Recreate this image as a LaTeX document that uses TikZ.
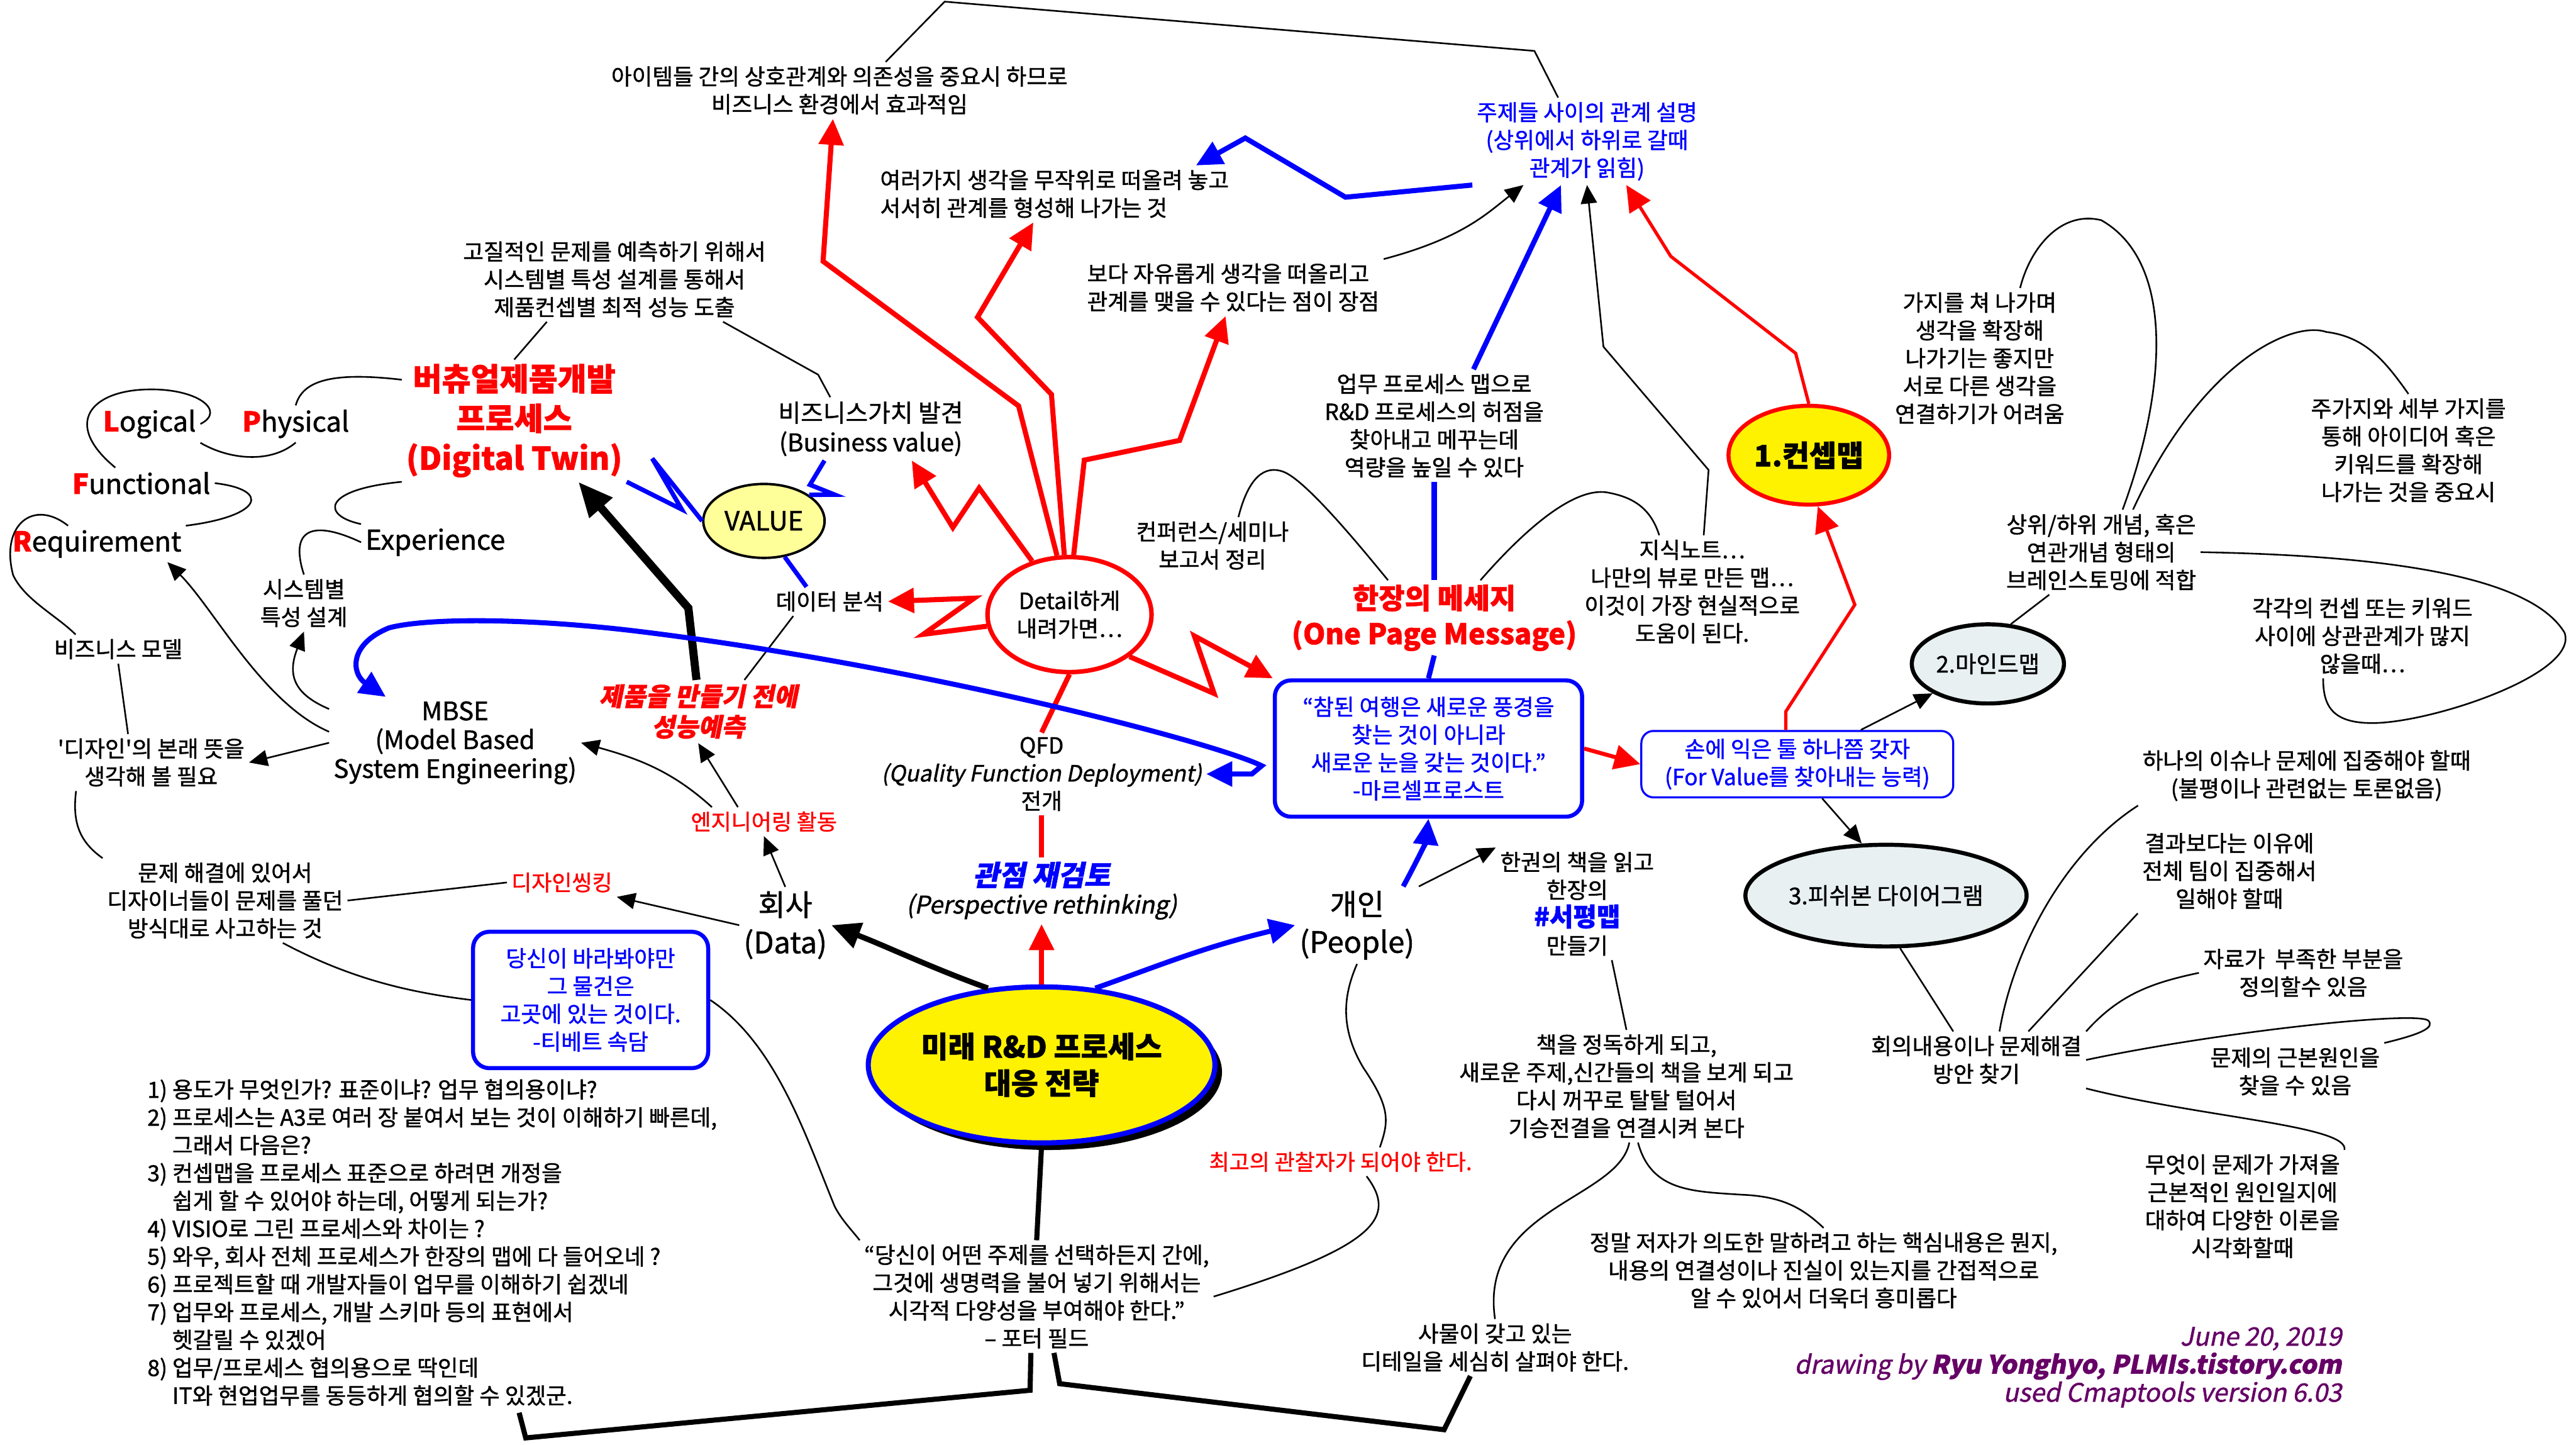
\documentclass[tikz,border=0pt]{standalone}
\usepackage{fontspec}
\setmainfont{Noto Sans CJK KR}[FakeBold=1.2, ItalicFont=*, ItalicFeatures={FakeSlant=0.2}, BoldItalicFont=*/B, BoldItalicFeatures={FakeSlant=0.2}]
\usepackage{tikz}
\usetikzlibrary{arrows.meta, shapes.geometric, shadows}
\definecolor{valuefill}{RGB}{255,255,153}
\definecolor{mapfill}{RGB}{232,240,242}
\definecolor{credit}{RGB}{102,0,102}

\begin{document}
\begin{tikzpicture}[x=0.02844cm, y=-0.02844cm,
	txt/.style={align=center, inner sep=2pt, font=\fontsize{11}{13.7}\selectfont},
	rtxt/.style={txt, text=red},
	btxt/.style={txt, text=blue},
	lpfre/.style={inner sep=2pt, font=\fontsize{13.5}{16}\selectfont},
	qbox/.style={txt, draw=blue, line width=2pt, rounded corners=8pt, text=blue},
	oval/.style={txt, ellipse, draw, line width=2pt},
	lin/.style={line width=0.8pt},
	seta/.style={lin, -{Triangle[length=0.32cm, width=0.28cm]}},
	linred/.style={red, line width=2.5pt},
	setared/.style={linred, -{Triangle[length=0.45cm, width=0.42cm]}},
	linblue/.style={blue, line width=2.5pt},
	setablue/.style={linblue, -{Triangle[length=0.45cm, width=0.42cm]}},
	linfat/.style={line width=2.5pt},
	setablk/.style={line width=2.7pt, -{Triangle[length=0.5cm, width=0.45cm]}},
	setafat/.style={line width=4pt, -{Triangle[length=0.6cm, width=0.5cm]}}
	]
	\fill[white] (0,0) rectangle (1568,879);
	\useasboundingbox (0,0) rectangle (1568,879);

	\node[txt] (items) at (511,55) {아이템들 간의 상호관계와 의존성을 중요시 하므로\\비즈니스 환경에서 효과적임};
	\node[txt, align=left, anchor=west] (random) at (533,118) {여러가지 생각을 무작위로 떠올려 놓고\\서서히 관계를 형성해 나가는 것};
	\node[txt, align=left, anchor=west] (free) at (659,175) {보다 자유롭게 생각을 떠올리고\\관계를 맺을 수 있다는 점이 장점};
	\node[btxt] (topics) at (966,86) {주제들 사이의 관계 설명\\(상위에서 하위로 갈때\\관계가 읽힘)};
	\node[txt] (quality) at (374,170) {고질적인 문제를 예측하기 위해서\\시스템별 특성 설계를 통해서\\제품컨셉별 최적 성능 도출};
	\node[rtxt, font=\fontsize{15.5}{19.5}\selectfont\bfseries] (twin) at (313,256) {버츄얼제품개발\\프로세스\\(Digital Twin)};

	\node[lpfre] (logical) at (91,258) {\textcolor{red}{\bfseries L}ogical};
	\node[lpfre] (physical) at (180,258) {\textcolor{red}{\bfseries P}hysical};
	\node[lpfre] (functional) at (86,294) {\textcolor{red}{\bfseries F}unctional};
	\node[lpfre] (requirement) at (59,331) {\textcolor{red}{\bfseries R}equirement};
	\node[lpfre] (experience) at (265,330) {Experience};

	\node[txt, font=\fontsize{12}{14.5}\selectfont] (bizval) at (530,261) {비즈니스가치 발견\\(Business value)};
	\node[ellipse, draw, line width=1.2pt, fill=valuefill, minimum width=2.1cm, minimum height=1.28cm, inner sep=1pt, font=\fontsize{13}{15}\selectfont] (value) at (465,317) {VALUE};
	\node[txt] (sysdesign) at (185,367) {시스템별\\특성 설계};
	\node[txt] (dataanal) at (505,366) {데이터 분석};
	\node[oval, draw=red, line width=2.2pt, fill=white, minimum width=2.84cm, minimum height=1.99cm, inner sep=0pt] (detail) at (651,374) {Detail하게\\내려가면…};
	\node[txt] (conf) at (738,332) {컨퍼런스/세미나\\보고서 정리};
	\node[txt] (bizproc) at (873,259) {업무 프로세스 맵으로\\R\&D 프로세스의 허점을\\찾아내고 메꾸는데\\역량을 높일 수 있다};
	\node[rtxt, font=\fontsize{14}{17.5}\selectfont\bfseries] (onepage) at (873,376) {한장의 메세지\\(One Page Message)};
	\node[txt] (know) at (1030,360) {지식노트…\\나만의 뷰로 만든 맵…\\이것이 가장 현실적으로\\도움이 된다.};

	\node[oval, draw=red, fill=yellow, minimum width=2.67cm, minimum height=1.71cm, inner sep=1pt, font=\fontsize{14.5}{17}\selectfont\bfseries] (concept) at (1101,277) {1.컨셉맵};
	\node[txt] (branch) at (1205,218) {가지를 쳐 나가며\\생각을 확장해\\나가기는 좋지만\\서로 다른 생각을\\연결하기가 어려움};
	\node[txt] (mainbranch) at (1466,274) {주가지와 세부 가지를\\통해 아이디어 혹은\\키워드를 확장해\\나가는 것을 중요시};
	\node[txt] (updown) at (1279,336) {상위/하위 개념, 혹은\\연관개념 형태의\\브레인스토밍에 적합};
	\node[oval, fill=mapfill, minimum width=2.62cm, minimum height=1.37cm, inner sep=1pt, font=\fontsize{11.3}{13.7}\selectfont] (mind) at (1210,404) {2.마인드맵};
	\node[txt] (each) at (1438,387) {각각의 컨셉 또는 키워드\\사이에 상관관계가 많지\\않을때…};

	\node[txt, font=\fontsize{12.5}{14.2}\selectfont] (mbse) at (277,452) {MBSE\\(Model Based\\System Engineering)};
	\node[qbox, minimum width=5.32cm, minimum height=2.36cm] (quote1) at (869.5,455.5) {“참된 여행은 새로운 풍경을\\찾는 것이 아니라\\새로운 눈을 갖는 것이다.”\\-마르셀프로스트};
	\node[qbox, line width=1pt, rounded corners=6pt, minimum width=5.4cm, minimum height=1.15cm] (hand) at (1094,465) {손에 익은 툴 하나쯤 갖자\\(For Value를 찾아내는 능력)};
	\node[oval, fill=mapfill, minimum width=3.98cm, minimum height=1.76cm, inner sep=1pt, font=\fontsize{11.4}{13.7}\selectfont] (fishbone) at (1148,545) {3.피쉬본 다이어그램};
	\node[rtxt, font=\fontsize{12.5}{15}\selectfont\bfseries\itshape] (predict) at (425,433) {제품을 만들기 전에\\성능예측};
	\node[txt] (design) at (92,464) {\textquotesingle 디자인\textquotesingle 의 본래 뜻을\\생각해 볼 필요};
	\node[txt] (bizmodel) at (72,395) {비즈니스 모델};
	\node[txt] (qfd) at (634,471) {QFD\\{\fontsize{11}{13.7}\selectfont\itshape (Quality Function Deployment)}\\전개};
	\node[rtxt, font=\fontsize{10.8}{13.5}\selectfont] (eng) at (465,500) {엔지니어링 활동};
	\node[rtxt, font=\fontsize{10.8}{13.5}\selectfont] (dthink) at (342,537) {디자인씽킹};
	\node[txt] (problem) at (137,548) {문제 해결에 있어서\\디자이너들이 문제를 풀던\\방식대로 사고하는 것};
	\node[txt, font=\fontsize{14.5}{18.5}\selectfont] (company) at (478,563) {회사\\(Data)};
	\node[txt] (persp) at (634,542) {{\color{blue}\fontsize{14}{17}\selectfont\bfseries\itshape 관점 재검토}\\{\fontsize{12}{14}\selectfont\itshape (Perspective rethinking)}};
	\node[txt, font=\fontsize{14.5}{18.5}\selectfont] (people) at (826,563) {개인\\(People)};
	\node[txt] (book) at (960,550) {한권의 책을 읽고\\한장의\\{\color{blue}\bfseries\fontsize{12.6}{13.7}\selectfont\#서평맵}\\만들기};

	\node[txt] (oneissue) at (1404,472) {하나의 이슈나 문제에 집중해야 할때\\(불평이나 관련없는 토론없음)};
	\node[txt] (result) at (1357,530) {결과보다는 이유에\\전체 팀이 집중해서\\일해야 할때};
	\node[txt] (lack) at (1402,592) {자료가\ \ 부족한 부분을\\정의할수 있음};
	\node[txt] (meeting) at (1203,645) {회의내용이나 문제해결\\방안 찾기};
	\node[txt] (root) at (1397,652) {문제의 근본원인을\\찾을 수 있음};
	\node[txt] (what) at (1365,734) {무엇이 문제가 가져올\\근본적인 원인일지에\\대하여 다양한 이론을\\시각화할때};

	\node[qbox, minimum width=4.07cm, minimum height=2.36cm] (quote2) at (359.5,608.5) {당신이 바라봐야만\\그 물건은\\고곳에 있는 것이다.\\-티베트 속담};
	\node[ellipse, draw=blue, line width=2.5pt, fill=yellow, minimum width=5.29cm, minimum height=2.7cm, inner sep=1pt, align=center, font=\fontsize{14.5}{18}\selectfont\bfseries, drop shadow={shadow xshift=3.5pt, shadow yshift=-3.5pt, fill=black, opacity=1}] (core) at (634,648) {미래 R\&D 프로세스\\대응 전략};
	\node[rtxt, font=\fontsize{10.8}{13.5}\selectfont] (observer) at (816,707) {최고의 관찰자가 되어야 한다.};
	\node[txt] (read) at (990,661) {책을 정독하게 되고,\\새로운 주제,신간들의 책을 보게 되고\\다시 꺼꾸로 탈탈 털어서\\기승전결을 연결시켜 본다};
	\node[txt, align=left, anchor=north west] (list) at (87,654) {1) 용도가 무엇인가? 표준이냐? 업무 협의용이냐?\\2) 프로세스는 A3로 여러 장 붙여서 보는 것이 이해하기 빠른데,\\\phantom{2) }그래서 다음은?\\3) 컨셉맵을 프로세스 표준으로 하려면 개정을\\\phantom{3) }쉽게 할 수 있어야 하는데, 어떻게 되는가?\\4) VISIO로 그린 프로세스와 차이는 ?\\5) 와우, 회사 전체 프로세스가 한장의 맵에 다 들어오네 ?\\6) 프로젝트할 때 개발자들이 업무를 이해하기 쉽겠네\\7) 업무와 프로세스, 개발 스키마 등의 표현에서\\\phantom{7) }헷갈릴 수 있겠어\\8) 업무/프로세스 협의용으로 딱인데\\\phantom{8) }IT와 현업업무를 동등하게 협의할 수 있겠군.};
	\node[txt] (quote3) at (631,789) {“당신이 어떤 주제를 선택하든지 간에,\\그것에 생명력을 불어 넣기 위해서는\\시각적 다양성을 부여해야 한다.”\\– 포터 필드};
	\node[txt] (author) at (1110,773) {정말 저자가 의도한 말하려고 하는 핵심내용은 뭔지,\\내용의 연결성이나 진실이 있는지를 간접적으로\\알 수 있어서 더욱더 흥미롭다};
	\node[txt] (detail2) at (910,820) {사물이 갖고 있는\\디테일을 세심히 살펴야 한다.};
	\node[anchor=east, align=right, inner sep=2pt, text=credit, font=\fontsize{12.5}{13.8}\selectfont\itshape] (credits) at (1428,832) {June 20, 2019\\drawing by {\bfseries Ryu Yonghyo, PLMIs.tistory.com}\\used Cmaptools version 6.03};

	\draw[setared] (detail.102) -- (620,247) -- (501,159) -- (507,0 |- items.south);
	\draw[setared] (detail.95) -- (640,240) -- (595,193) -- (629,0 |- random.south);
	\draw[setared] (detail.86) -- (660,280) -- (718,268) -- (746,0 |- free.south);
	\draw[setared] (detail.125) -- (596,297) -- (580,321) -- (555,0 |- bizval.south);
	\draw[setared] (detail.188) -- (562,386) -- (593,364) -- (dataanal.east);
	\draw[setared] (detail.-35) -- (739,422) -- (727,387) -- (quote1.north west);
	\draw[linred] (detail.south) -- (qfd.north);
	\draw[linred] (persp.north) -- (qfd.south);
	\draw[setared] (core.north) -- (persp.south);
	\draw[setablk] (core.125) .. controls (567,589) and (540,576) .. (company.east);
	\draw[setablue] (core.55) .. controls (702,589) and (730,577) .. (people.west);
	\draw[linfat] (core.south) -- (quote3.north);
	\draw[linfat] ([xshift=-0.1cm]quote3.south) -- (627,846) -- (320,875) -- (316,0 |- list.south);
	\draw[linfat] ([xshift=0.3cm]quote3.south) -- (645,842) -- (879,870) -- (895,0 |- detail2.south);

	\draw[setafat] ([xshift=-0.03cm]predict.north) -- (419,370) -- (352,0 |- twin.south);
	\draw[linblue, line width=2.2pt] (value.west) -- (397,279) -- (415,310) -- (twin.south east);
	\draw[linblue, line width=2.2pt] (value.30) -- (508,301) -- (493,295) -- ([xshift=-0.8cm]bizval.south);
	\draw[linblue, line width=2.2pt] (value.-60) -- ([xshift=-0.4cm]dataanal.north);
	\draw[lin] ([xshift=-0.63cm]dataanal.south) -- ([xshift=0.8cm]predict.north);
	\draw[linblue, {Triangle[length=0.45cm, width=0.42cm]}-{Triangle[length=0.45cm, width=0.42cm]}] (qfd.east) -- (762,471) -- (768,466) .. controls (740,452) and (560,405) .. (387,384) .. controls (320,376) and (260,376) .. (237,382) .. controls (212,392) and (214,410) .. ([xshift=-1.2cm]mbse.north);

	\draw[linblue] (quote1.north) -- (onepage.south);
	\draw[linblue] (onepage.north) -- (bizproc.south);
	\draw[setablue] ([xshift=0.68cm]bizproc.north) -- ([xshift=-0.45cm]topics.south);
	\draw[setablue] (topics.south west) -- (819,120) -- (758,84) -- (728,0 |- random.north);
	\draw[seta] (free.north east) .. controls (890,145) and (905,130) .. ([xshift=-1.1cm]topics.south);
	\draw[seta] ([xshift=0.2cm]know.north) -- (1040,286) -- (976,211) -- (topics.south);
	\draw[setared, line width=1.6pt] (concept.north) -- (1093,215) -- (1017,156) -- ([xshift=0.68cm]topics.south);
	\draw[lin] ([xshift=0.8cm]items.north) -- (575,1) -- (934,31) -- ([xshift=-0.5cm]topics.north);
	\draw[lin] (twin.north) -- ([xshift=-1.17cm]quality.south);
	\draw[lin] ([xshift=1.88cm]quality.south) -- (498,228) -- ([xshift=-0.7cm]bizval.north);
	\draw[lin] ([xshift=0.45cm]conf.north) .. controls (760,290) and (770,283) .. (781,287) .. controls (795,292) and (830,335) .. ([xshift=-0.8cm]onepage.north);
	\draw[lin] ([xshift=0.8cm]onepage.north) .. controls (930,320) and (960,295) .. (980,300) .. controls (995,303) and (1005,310) .. ([xshift=-0.57cm]know.north);

	\draw[lin] (twin.160) .. controls (201,226) and (184,232) .. (physical.north);
	\draw[lin] (physical.south) .. controls (165,282) and (140,280) .. (logical.south east);
	\draw[lin] (logical.east) .. controls (138,250) and (120,236) .. (89,237) .. controls (55,238) and (38,258) .. ([xshift=-0.45cm]functional.north);
	\draw[lin] (functional.east) .. controls (165,298) and (160,314) .. (requirement.north east);
	\draw[lin] ([xshift=-0.5cm]requirement.north) .. controls (20,303) and (0,320) .. (8,350) .. controls (15,365) and (35,375) .. ([xshift=-0.74cm]bizmodel.north);
	\draw[lin] (bizmodel.south) -- ([xshift=-0.4cm]design.north);
	\draw[lin] ([xshift=-1.3cm]design.south) .. controls (44,500) and (48,512) .. (problem.north west);
	\draw[lin] (problem.east) -- (dthink.west);
	\draw[lin] ([xshift=1cm]problem.south) .. controls (214,596) and (250,604) .. (quote2.west);
	\draw[lin] (experience.north west) .. controls (196,314) and (195,298) .. (twin.south west);
	\draw[lin] (experience.west) .. controls (190,316) and (176,322) .. (sysdesign.north);
	\draw[seta] (mbse.165) .. controls (178,422) and (175,410) .. (sysdesign.south);
	\draw[seta] (mbse.175) .. controls (160,428) and (130,370) .. ([xshift=1.22cm]requirement.south);
	\draw[seta] (mbse.west) -- (design.east);
	\draw[seta] ([xshift=-0.9cm]eng.north) .. controls (410,470) and (390,462) .. (mbse.east);
	\draw[seta] ([xshift=-0.45cm]eng.north) -- (predict.south);
	\draw[seta] (company.north) -- (eng.south);
	\draw[seta] (company.west) -- (dthink.south east);

	\draw[setablue] ([xshift=0.8cm]people.north) .. controls (862,525) and (868,512) .. (quote1.south);
	\draw[seta] (people.north east) -- (book.north west);
	\draw[lin] (people.south) .. controls (818,605) and (815,625) .. (830,650) .. controls (847,675) and (845,683) .. ([xshift=0.68cm]observer.north);
	\draw[lin] ([xshift=0.45cm]observer.south) .. controls (850,740) and (840,758) .. (quote3.east);
	\draw[lin] (quote2.east) .. controls (472,635) and (490,690) .. (508,734) .. controls (512,742) and (518,748) .. (quote3.north west);
	\draw[lin] ([xshift=0.6cm]book.south) -- (read.north);
	\draw[lin] ([xshift=0.05cm]read.south) .. controls (985,730) and (900,735) .. (detail2.north);
	\draw[lin] ([xshift=0.2cm]read.south) .. controls (1005,725) and (1030,725) .. (1060,727) .. controls (1085,728) and (1097,735) .. (author.north);

	\draw[setared, line width=2pt] (quote1.east) -- (hand.west);
	\draw[setared, line width=1.6pt] ([xshift=-0.2cm]hand.north) -- (1087,433) -- (1129,368) -- (concept.-80);
	\draw[seta] ([xshift=1.1cm]hand.north) -- (mind.south west);
	\draw[seta] ([xshift=0.43cm]hand.south) -- (fishbone.115);
	\draw[lin] (mind.60) -- ([xshift=-0.9cm]updown.south);
	\draw[lin] ([xshift=0.37cm]updown.north) .. controls (1318,240) and (1325,160) .. (1279,134) .. controls (1255,128) and (1236,150) .. ([xshift=0.7cm]branch.north);
	\draw[lin] ([xshift=0.55cm]updown.north) .. controls (1340,220) and (1395,195) .. (1416,202) .. controls (1440,205) and (1452,220) .. (mainbranch.north);
	\draw[lin] (updown.east) .. controls (1450,338) and (1540,350) .. (1561,385) .. controls (1570,410) and (1480,440) .. (1444,440) .. controls (1420,440) and (1414,430) .. ([xshift=-0.68cm]each.south);

	\draw[lin] (fishbone.-75) -- ([xshift=-0.4cm]meeting.north);
	\draw[lin] (oneissue.south west) .. controls (1255,520) and (1225,580) .. ([xshift=0.4cm]meeting.north);
	\draw[lin] (result.south west) -- ([xshift=0.9cm]meeting.north);
	\draw[lin] (meeting.north east) .. controls (1290,605) and (1310,598) .. (lack.west);
	\draw[lin] (meeting.east) .. controls (1350,628) and (1470,615) .. (1478,621) .. controls (1482,625) and (1475,629) .. (root.north east);
	\draw[lin] (meeting.south east) .. controls (1340,680) and (1430,685) .. (what.north east);
\end{tikzpicture}
\end{document}
